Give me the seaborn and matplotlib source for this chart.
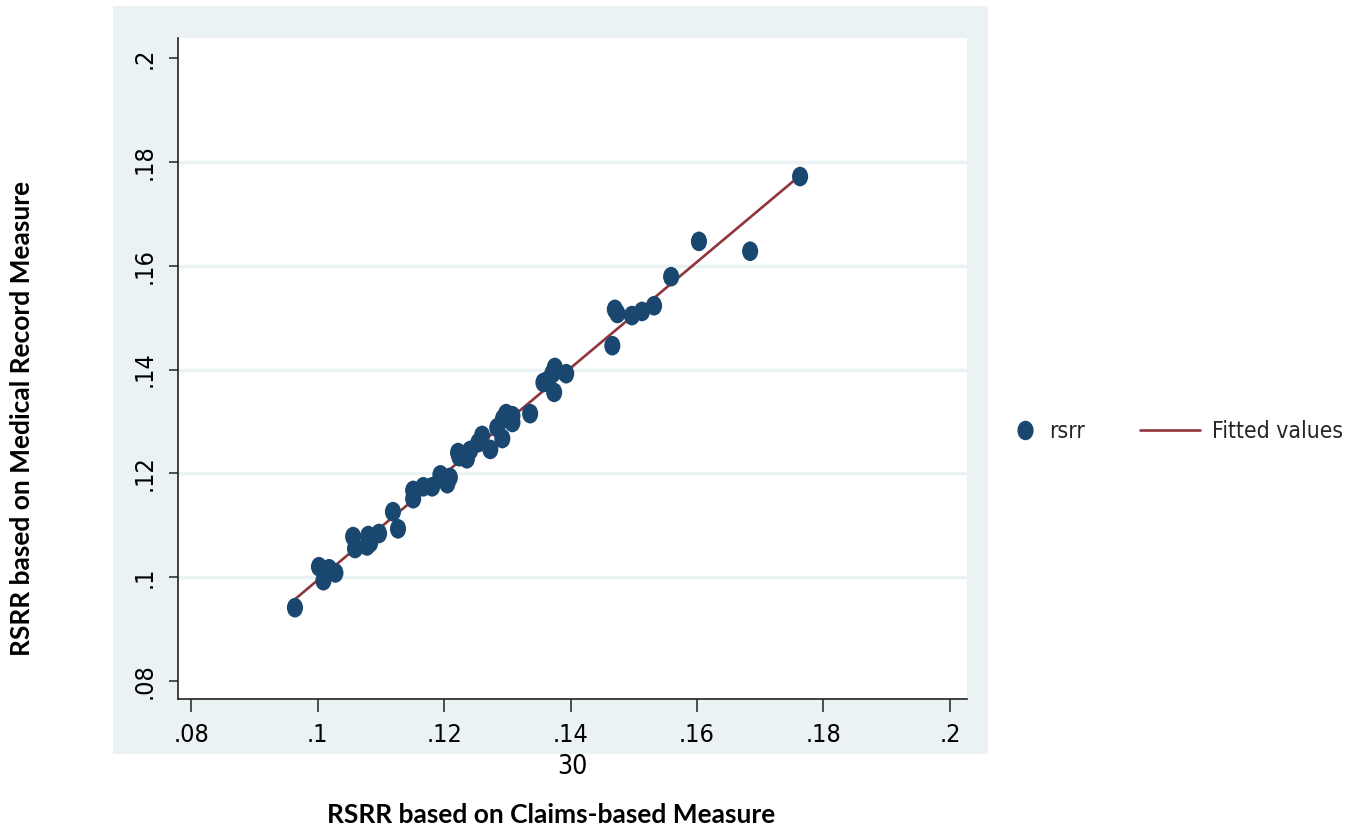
#%% ---- Load Packages ----
import numpy as np
import pandas as pd
import matplotlib
matplotlib.use("Agg")
import matplotlib.pyplot as plt
from matplotlib.patches import Rectangle
from matplotlib.path import Path
from matplotlib.lines import Line2D
from matplotlib import font_manager
import seaborn as sns

# %% ---- Data ----
claims = [0.0964, 0.1002, 0.1009, 0.1018, 0.1028, 0.1056, 0.1059, 0.1078, 0.1080, 0.1083,
          0.1097, 0.1119, 0.1127, 0.1151, 0.1151, 0.1167, 0.1181, 0.1194, 0.1205, 0.1209,
          0.1222, 0.1224, 0.1236, 0.1241, 0.1254, 0.1260, 0.1273, 0.1284, 0.1292, 0.1293,
          0.1298, 0.1308, 0.1308, 0.1336, 0.1357, 0.1364, 0.1371, 0.1375, 0.1374, 0.1393,
          0.1466, 0.1470, 0.1474, 0.1497, 0.1513, 0.1532, 0.1559, 0.1603, 0.1684, 0.1763]
medrec = [0.0941, 0.1020, 0.0993, 0.1016, 0.1008, 0.1078, 0.1055, 0.1060, 0.1080, 0.1066,
          0.1084, 0.1126, 0.1093, 0.1167, 0.1151, 0.1174, 0.1174, 0.1197, 0.1180, 0.1192,
          0.1240, 0.1232, 0.1228, 0.1244, 0.1259, 0.1273, 0.1246, 0.1288, 0.1267, 0.1305,
          0.1315, 0.1311, 0.1298, 0.1315, 0.1375, 0.1379, 0.1392, 0.1404, 0.1356, 0.1392,
          0.1446, 0.1516, 0.1508, 0.1504, 0.1512, 0.1523, 0.1579, 0.1647, 0.1628, 0.1772]
tick_vals = [0.08, 0.10, 0.12, 0.14, 0.16, 0.18, 0.20]
tick_labels = [".08", ".1", ".12", ".14", ".16", ".18", ".2"]

df = pd.DataFrame({"claims": claims, "rsrr": medrec})

# fitted values (OLS)
b1, b0 = np.polyfit(df["claims"], df["rsrr"], 1)
fit = pd.DataFrame({"claims": np.sort(df["claims"].values)})
fit["fitted"] = b0 + b1 * fit["claims"]

# %% ---- Plot ----
sns.set_style("white")
# narrow-ish face if the system has one, else condensed DejaVu
names = {f.name for f in font_manager.fontManager.ttflist}
narrow_fam = "Liberation Sans Narrow" if "Liberation Sans Narrow" in names else "DejaVu Sans"
plt.rcParams["font.family"] = [narrow_fam, "DejaVu Sans"]
plt.rcParams["font.stretch"] = "condensed"
tick_fs = 18
leg_fs = 16.5

navy = "#1A476F"
maroon = "#90353B"
graph_bg = "#EAF2F3"

fig = plt.figure(figsize=(13.54, 8.35), dpi=100)
fig.patches.append(Rectangle((113 / 1354, 1 - 754 / 835), 875 / 1354, 748 / 835,
                             transform=fig.transFigure, facecolor=graph_bg,
                             edgecolor="none", zorder=-5))
ax = fig.add_axes([178 / 1354, 1 - 699 / 835, 789 / 1354, 661 / 835])
ax.set_facecolor("white")

# slightly tall ellipse marker like the stata export
circ = Path.unit_circle()
ell = Path(circ.vertices * np.array([0.82, 1.0]), circ.codes)

sns.lineplot(data=fit, x="claims", y="fitted", color=maroon, linewidth=1.9, ax=ax,
             zorder=2, legend=False)
sns.scatterplot(data=df, x="claims", y="rsrr", marker=ell, s=200, color=navy,
                edgecolor="none", ax=ax, zorder=3, legend=False)

ax.set_xlim(0.0779, 0.2027)
ax.set_ylim(0.0765, 0.2039)
ax.set_xticks(tick_vals)
ax.set_xticklabels(tick_labels)
ax.set_yticks(tick_vals)
ax.set_yticklabels(tick_labels, rotation=90, va="center")
ax.tick_params(axis="x", bottom=True, length=9.5, width=1.1, color="#222222",
               labelsize=tick_fs, pad=8, labelcolor="black")
ax.tick_params(axis="y", left=True, length=6.5, width=1.1, color="#222222",
               labelsize=tick_fs, pad=9, labelcolor="black")

ax.yaxis.grid(True, color=graph_bg, linewidth=2.5)
gl = ax.get_ygridlines()
gl[0].set_visible(False)
gl[-1].set_visible(False)
ax.set_axisbelow(True)

for side in ["top", "right"]:
    ax.spines[side].set_visible(False)
for side in ["left", "bottom"]:
    ax.spines[side].set_color("#222222")
    ax.spines[side].set_linewidth(1.2)

ax.set_xlabel("30", fontsize=tick_fs + 1, labelpad=5, color="black")
ax.set_ylabel("")

fig.text(551 / 1354, 1 - 815 / 835, "RSRR based on Claims-based Measure",
         family=["Lato", "DejaVu Sans"], fontweight="bold", fontsize=19,
         ha="center", va="center", color="black")
fig.text(22 / 1354, 1 - 418 / 835, "RSRR based on Medical Record Measure",
         family=["Lato", "DejaVu Sans"], fontweight="bold", fontsize=19,
         rotation=90, ha="center", va="center", color="black")

# two single-entry legends so each key gets its own handle length
h_dot = Line2D([], [], linestyle="none", marker=ell, markersize=13, color=navy)
h_fit = Line2D([], [], color=maroon, linewidth=1.9)
fig.legend([h_dot], ["rsrr"], frameon=False, loc="center left",
           bbox_to_anchor=(1012 / 1354, 1 - 432 / 835), fontsize=leg_fs,
           handlelength=1.1, handletextpad=0.5, borderpad=0, borderaxespad=0)
fig.legend([h_fit], ["Fitted values"], frameon=False, loc="center left",
           bbox_to_anchor=(1140 / 1354, 1 - 432 / 835), fontsize=leg_fs,
           handlelength=2.6, handletextpad=0.55, borderpad=0, borderaxespad=0)

fig.savefig("out.png", dpi=100)
